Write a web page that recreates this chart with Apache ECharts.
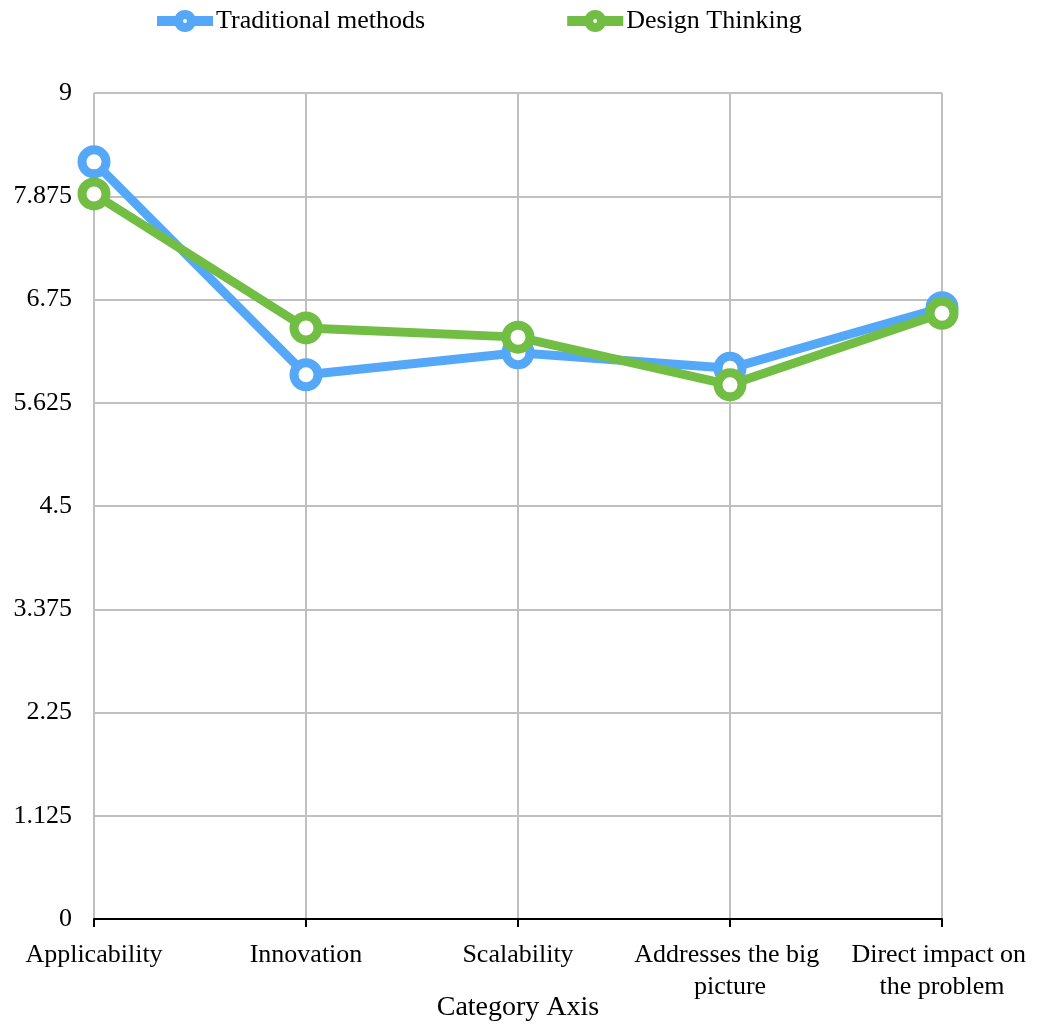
<!DOCTYPE html>
<html>
<head>
<meta charset="utf-8">
<script src="https://cdn.jsdelivr.net/npm/echarts@6/dist/echarts.min.js"></script>
<style>
  html, body { margin: 0; padding: 0; background: #fff; }
  #chart { width: 1042px; height: 1025px; }
</style>
</head>
<body>
<div id="chart"></div>
<script>
// Categories along the horizontal axis
const categories = ['Applicability', 'Innovation', 'Scalability', 'Addresses the big picture', 'Direct impact on the problem'];
// Scores per approach
const traditionalMethods = [8.25, 5.93, 6.17, 6.0, 6.66];
const designThinking = [7.9, 6.44, 6.34, 5.82, 6.6];
const seriesNames = ['Traditional methods', 'Design Thinking'];

const FONT = '"Liberation Serif", "Times New Roman", serif';
const BLUE = '#55a8f8';
const GREEN = '#72be44';

// Legend glyph: thick bar with a ringed marker and a small hole in the middle
const LEGEND_ICON = 'path://M0 6 H20 V16 H0 Z M36 6 H56 V16 H36 Z ' +
  'M17 11 A11 11 0 1 1 39 11 A11 11 0 1 1 17 11 Z ' +
  'M26 11 A2 2 0 1 0 30 11 A2 2 0 1 0 26 11 Z';

function lineSeries(name, data, color) {
  return {
    name: name,
    type: 'line',
    data: data,
    symbol: 'circle',
    symbolSize: 24,
    showAllSymbol: true,
    lineStyle: { color: color, width: 9 },
    itemStyle: { color: '#fff', borderColor: color, borderWidth: 9 },
    emphasis: { disabled: true }
  };
}

const chart = echarts.init(document.getElementById('chart'), null, { renderer: 'canvas' });
chart.setOption({
  animation: false,
  backgroundColor: '#fff',
  textStyle: { fontFamily: FONT },
  legend: {
    top: 3,
    left: 152,
    itemGap: 142,
    itemWidth: 56,
    itemHeight: 22,
    textStyle: { fontFamily: FONT, fontSize: 26, color: '#000', padding: [0, 0, 0, -2] },
    data: [
      { name: seriesNames[0], icon: LEGEND_ICON, itemStyle: { color: BLUE, borderWidth: 0 } },
      { name: seriesNames[1], icon: LEGEND_ICON, itemStyle: { color: GREEN, borderWidth: 0 } }
    ]
  },
  grid: { left: 94, right: 100, top: 93, bottom: 106, containLabel: false, outerBoundsMode: 'none' },
  xAxis: {
    type: 'category',
    data: categories,
    boundaryGap: false,
    name: 'Category Axis',
    nameLocation: 'middle',
    nameGap: 75,
    nameMoveOverlap: false,
    nameTextStyle: { fontFamily: FONT, fontSize: 28, color: '#000' },
    axisLine: { lineStyle: { color: '#000', width: 2 } },
    axisTick: { show: true, length: 8, lineStyle: { color: '#000', width: 2 } },
    splitLine: { show: true, lineStyle: { color: '#c0c0c0', width: 2 } },
    axisLabel: {
      fontFamily: FONT, fontSize: 26, color: '#000', margin: 20,
      lineHeight: 32, width: 200, overflow: 'break', interval: 0
    }
  },
  yAxis: {
    type: 'value',
    min: 0,
    max: 9,
    interval: 1.125,
    axisLine: { show: false },
    axisTick: { show: false },
    splitLine: { show: true, lineStyle: { color: '#c0c0c0', width: 2 } },
    axisLabel: { fontFamily: FONT, fontSize: 26, color: '#000', margin: 22 }
  },
  series: [
    lineSeries(seriesNames[0], traditionalMethods, BLUE),
    lineSeries(seriesNames[1], designThinking, GREEN)
  ]
});
</script>
</body>
</html>
